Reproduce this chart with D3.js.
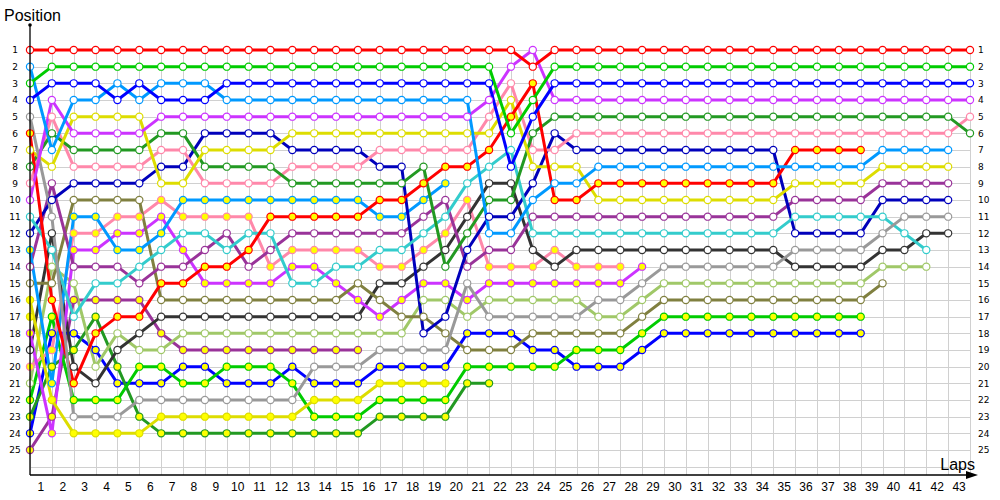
<!DOCTYPE html>
<html><head><meta charset="utf-8">
<script src="https://cdn.jsdelivr.net/npm/d3@7"></script>
<style>html,body{margin:0;padding:0;background:#fff;}svg{display:block;}</style>
</head><body><svg id="c" width="1000" height="500"></svg>
<script>
// ---- data ----
const lapLabels = [1,2,3,4,5,6,7,8,9,10,11,12,13,14,15,16,17,18,19,20,21,22,23,24,25,26,27,28,29,30,31,32,33,34,35,36,37,38,39,40,41,42,43];
const positionLabels = [1,2,3,4,5,6,7,8,9,10,11,12,13,14,15,16,17,18,19,20,21,22,23,24,25];

const posRed      = [1,1,1,1,1,1,1,1,1,1, 1,1,1,1,1,1,1,1,1,1, 1,1,1,2,1,1,1,1,1,1, 1,1,1,1,1,1,1,1,1,1, 1,1,1,1];
const posGreen    = [3,2,2,2,2,2,2,2,2,2, 2,2,2,2,2,2,2,2,2,2, 2,2,6,4,2,2,2,2,2,2, 2,2,2,2,2,2,2,2,2,2, 2,2,2,2];
const posBlue     = [4,3,3,3,4,3,4,4,4,3, 3,3,3,3,3,3,3,3,3,3, 3,3,8,5,3,3,3,3,3,3, 3,3,3,3,3,3,3,3,3,3, 3,3,3,3];
const posSky      = [2,7,4,4,3,4,3,3,3,4, 4,4,4,4,4,4,4,4,4,4, 4,12,12,10,9,9,8,8,8,8, 8,8,8,8,8,8,8,8,8,7, 7,7,7];
const posViolet   = [10,4,6,6,6,6,5,5,5,5, 5,5,5,5,5,5,5,5,5,5, 5,4,2,1,4,4,4,4,4,4, 4,4,4,4,4,4,4,4,4,4, 4,4,4,4];
const posGrey     = [5,11,23,23,23,22,22,22,22,22, 22,22,22,20,20,20,19,19,19,19, 15,17,17,17,17,17,16,16,15,14, 14,14,14,14,14,13,13,13,13,12, 11,11,11];
const posRedY     = [6,16,21,18,17,17,15,15,14,14, 13,11,11,11,11,11,10,10,9,8, 8,7,5,3,10,10,9,9,9,9, 9,9,9,9,9,7,7,7,7];
const posYellow   = [7,8,5,5,5,5,9,9,7,7, 7,7,6,6,6,6,6,6,6,6, 6,6,4,8,8,8,10,10,10,10, 10,10,10,10,10,9,9,9,9,8, 8,8,8];
const posForest   = [8,6,7,7,7,7,6,6,8,8, 8,8,9,9,9,9,9,9,8,14, 12,10,10,6,5,5,5,5,5,5, 5,5,5,5,5,5,5,5,5,5, 5,5,5,6];
const posPink     = [9,5,8,8,8,8,7,7,9,9, 9,9,8,8,8,8,7,7,7,7, 7,5,3,7,7,6,6,6,6,6, 6,6,6,6,6,6,6,6,6,6, 6,6,6,5];
const posCyan     = [11,13,17,15,15,14,13,12,12,13, 12,12,15,15,14,14,13,13,12,11, 9,8,7,12,12,12,12,12,12,12, 12,12,12,12,12,11,11,11,11,11, 12,13];
const posNavy     = [12,10,9,9,9,9,8,8,6,6, 6,6,7,7,7,7,8,8,18,17, 13,11,11,9,6,7,7,7,7,7, 7,7,7,7,7,12,12,12,12,10, 10,10,10];
const posSkyY     = [13,21,11,11,13,13,12,10,10,10, 10,10,10,10,10,10,11,11,10,9];
const posPlum     = [14,9,14,14,14,15,14,14,13,12, 14,13,12,12,12,12,12,12,11,10, 14,13,13,11,11,11,11,11,11,11, 11,11,11,11,11,10,10,10,10,9, 9,9,9];
const posOlive    = [15,15,10,10,10,10,16,16,16,16, 16,16,16,16,16,15,16,17,17,18, 19,19,19,18,18,18,18,18,17,16, 16,16,16,16,16,16,16,16,16,15];
const posYellowY  = [16,22,24,24,24,24,23,23,23,23, 23,23,23,22,22,22,21,21,21,21];
const posOrange   = [17];
const posVioletY  = [18,24,13,13,12,12,11,13,15,15, 15,15,14,14,15,16,17,16,15,15, 16,15,15,15,15,15,15,15,14];
const posCharcoal = [19,12,20,21,19,18,17,17,17,17, 17,17,17,17,17,17,15,15,14,13, 11,9,9,13,14,13,13,13,13,13, 13,13,13,13,13,14,14,14,14,13, 13,12,12];
const posPinkY    = [20,19,12,12,11,11,10,11,11,11, 11,14,13,13,13,13,14,14,13,12, 10,14,14,14,13,14,14,14];
const posLime     = [21,14,15,20,18,19,19,18,18,18, 18,18,18,18,18,18,18,18,16,16, 17,16,16,16,16,16,17,17,16,15, 15,15,15,15,15,15,15,15,15,14, 14,14];
const posGreenY   = [22,17,22,22,22,20,20,21,21,20, 20,20,21,23,23,23,22,22,22,22, 20,20,20,20,20,19,19,19,18,17, 17,17,17,17,17,17,17,17,17];
const posForestY  = [23,20,19,17,20,23,24,24,24,24, 24,24,24,24,24,24,23,23,23,23, 21,21];
const posBlueY    = [24,18,18,19,21,21,21,20,20,21, 21,21,20,21,21,21,20,20,20,20, 18,18,18,19,19,20,20,20,19,18, 18,18,18,18,18,18,18,18,18];
const posPlumY    = [25,23,16,16,16,16,18,19,19,19, 19,19,19,19,19,19];

const drivers = [
  {p: posRed,      c: "#ff0000", y: false},
  {p: posGreen,    c: "#00cc00", y: false},
  {p: posBlue,     c: "#0000ff", y: false},
  {p: posSky,      c: "#0099ff", y: false},
  {p: posViolet,   c: "#cc33ff", y: false},
  {p: posGrey,     c: "#999999", y: false},
  {p: posRedY,     c: "#ff0000", y: true},
  {p: posYellow,   c: "#dddd00", y: false},
  {p: posForest,   c: "#229922", y: false},
  {p: posPink,     c: "#ff88aa", y: false},
  {p: posCyan,     c: "#33cccc", y: false},
  {p: posNavy,     c: "#0000bb", y: false},
  {p: posSkyY,     c: "#0099ff", y: true},
  {p: posPlum,     c: "#993399", y: false},
  {p: posOlive,    c: "#808040", y: false},
  {p: posYellowY,  c: "#dddd00", y: true},
  {p: posOrange,   c: "#dddd00", y: true},
  {p: posVioletY,  c: "#cc33ff", y: true},
  {p: posCharcoal, c: "#333333", y: false},
  {p: posPinkY,    c: "#ff88aa", y: true},
  {p: posLime,     c: "#a0c868", y: false},
  {p: posGreenY,   c: "#00cc00", y: true},
  {p: posForestY,  c: "#229922", y: true},
  {p: posBlueY,    c: "#0000ff", y: true},
  {p: posPlumY,    c: "#993399", y: true}
];

// ---- drawing ----
const svg = d3.select("#c");
const x = d3.scaleLinear().domain([0, 43]).range([30, 970]);
const y = d3.scaleLinear().domain([1, 25]).range([50, 450]);
const xb = d3.scaleBand().domain(lapLabels).range([30, 970]);

// grid
const grid = svg.append("g").attr("stroke", "#d0d0d0").attr("stroke-width", 1);
grid.selectAll("line.v").data(d3.range(0, 44)).join("line")
  .attr("x1", d => Math.round(x(d)) + 0.5).attr("x2", d => Math.round(x(d)) + 0.5)
  .attr("y1", y(1)).attr("y2", 475);
grid.selectAll("line.h").data(d3.range(1, 27)).join("line")
  .attr("x1", 30).attr("x2", x(43))
  .attr("y1", d => Math.round(y(d)) + 0.5).attr("y2", d => Math.round(y(d)) + 0.5);

// series
const line = d3.line().x((d, i) => x(i)).y(d => y(d));
const order = drivers.slice().reverse();
order.forEach(dr => {
  svg.append("path").datum(dr.p).attr("d", line)
    .attr("fill", "none").attr("stroke", dr.c).attr("stroke-width", 3)
    .attr("stroke-linejoin", "round");
});
order.forEach(dr => {
  svg.append("g").selectAll("circle").data(dr.p).join("circle")
    .attr("cx", (d, i) => x(i)).attr("cy", d => y(d)).attr("r", 3.6)
    .attr("fill", dr.y ? "#ffff00" : "#ffffff")
    .attr("stroke", dr.c).attr("stroke-width", 1.2);
});

// axes
const ax = svg.append("g").attr("stroke", "#000").attr("stroke-width", 1.3);
ax.append("line").attr("x1", 30).attr("x2", 30).attr("y1", 25).attr("y2", 475);
ax.append("line").attr("x1", 30).attr("x2", 970).attr("y1", 475).attr("y2", 475);
svg.append("path").attr("d", "M966,471 L978,475 L966,479 Z").attr("fill", "#000");
svg.append("circle").attr("cx", 30).attr("cy", 25).attr("r", 1.8).attr("fill", "#000");

const leftAxis = svg.append("g").attr("transform", "translate(15,0)")
  .call(d3.axisLeft(y).tickValues(positionLabels).tickSize(0).tickPadding(0).tickFormat(d3.format("d")));
leftAxis.selectAll("text").attr("text-anchor", "middle");
const rightAxis = svg.append("g").attr("transform", "translate(978,0)")
  .call(d3.axisRight(y).tickValues(positionLabels).tickSize(0).tickPadding(0).tickFormat(d3.format("d")));
[leftAxis, rightAxis].forEach(a => {
  a.select(".domain").remove();
  a.selectAll("text").attr("font-family", "DejaVu Sans, Verdana, sans-serif")
    .attr("font-size", 9).attr("fill", "#000");
});
const bottomAxis = svg.append("g").attr("transform", "translate(0,476)")
  .call(d3.axisBottom(xb).tickSize(0).tickPadding(6));
bottomAxis.select(".domain").remove();
bottomAxis.selectAll("text").attr("font-family", "Liberation Sans, Arial, sans-serif")
  .attr("font-size", 12).attr("fill", "#000");

svg.append("text").attr("x", 4).attr("y", 21).text("Position")
  .attr("font-family", "Liberation Sans, Arial, sans-serif").attr("font-size", 16);
svg.append("text").attr("x", 975).attr("y", 470).attr("text-anchor", "end").text("Laps")
  .attr("font-family", "Liberation Sans, Arial, sans-serif").attr("font-size", 16);
</script></body></html>
